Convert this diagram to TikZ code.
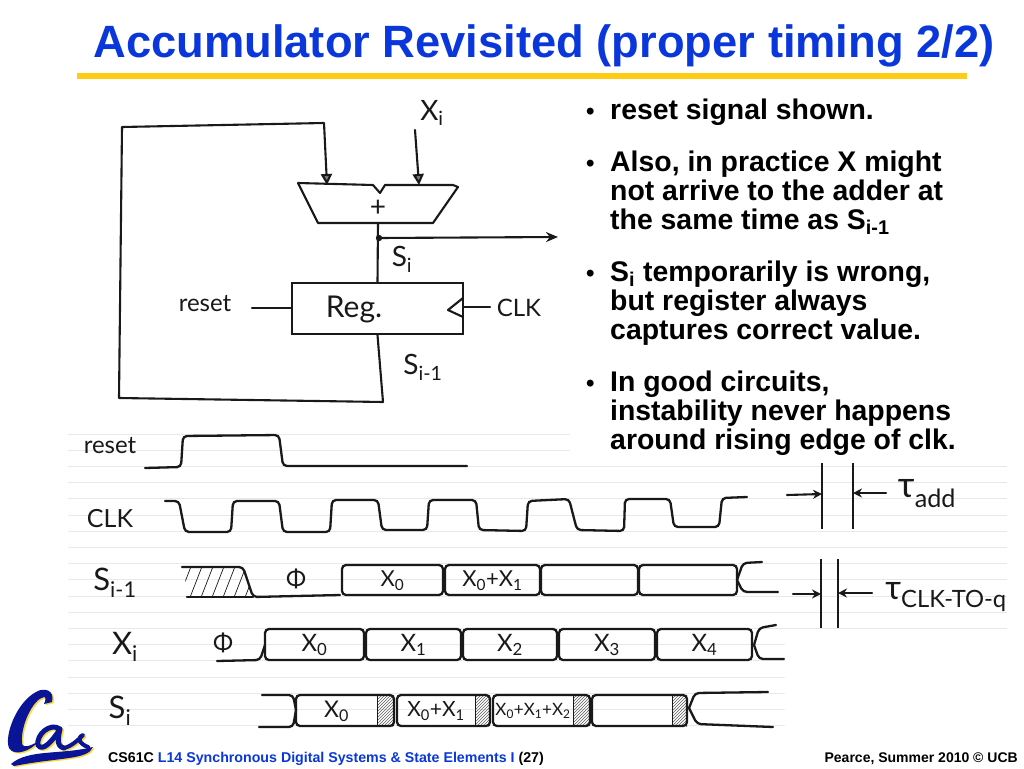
\documentclass[tikz,border=0pt]{standalone}
\usepackage{fontspec}
\setmainfont{Liberation Sans}
\newfontfamily\handfont{Lato}
\usepackage{tikz}
\usetikzlibrary{arrows.meta,patterns}
\definecolor{titleblue}{RGB}{10,55,220}
\definecolor{rulegold}{RGB}{255,204,20}
\definecolor{calblue}{RGB}{10,20,150}
\definecolor{calgold}{RGB}{250,215,60}
\definecolor{ink}{RGB}{25,25,25}
\definecolor{notebook}{RGB}{232,232,232}
\tikzset{
    wire/.style={draw=ink, line width=2.1pt, line join=round, line cap=round},
    wave/.style={draw=ink, line width=2.3pt, rounded corners=4pt, line cap=round},
    thinmark/.style={draw=ink, line width=1.1pt},
    hand/.style={inner sep=0pt, text=ink, font=\handfont\fontsize{#1}{#1}\selectfont},
    hand/.default=24,
    slide/.style={anchor=base west, inner sep=0pt, font=\bfseries\fontsize{28.4}{30}\selectfont},
    foot/.style={inner sep=0pt, font=\bfseries\fontsize{#1}{16}\selectfont},
    calink/.style={line cap=round, line join=round},
}
\newcommand{\calshape}[2]{%
    \fill[#1] (52,702) .. controls (55,690) and (44,687) .. (36,692)
        .. controls (17,702) and (4,735) .. (9,748)
        .. controls (14,757) and (31,751) .. (39,741)
        .. controls (29,747) and (21,749) .. (22,741)
        .. controls (21,725) and (33,699) .. (44,697)
        .. controls (46,697) and (46,700) .. (44,704) to cycle;
    \draw[#1, line width=5pt, calink] (60,729) .. controls (50,722) and (36,735) .. (38,745)
        .. controls (42,752) and (52,742) .. (60,729) .. controls (58,738) and (56,746) .. (64,748);
    \draw[#1, line width=4pt, calink] (64,748) .. controls (72,746) and (78,740) .. (83,735)
        .. controls (76,738) and (80,744) .. (88,747);
    \fill[#1] (11,764) .. controls (28,749) and (60,755) .. (93,747)
        .. controls (88,760) and (60,757) .. (14,766) to cycle;
}
\begin{document}
\begin{tikzpicture}[x=1pt,y=-1pt]
    \useasboundingbox (0,0) rectangle (1024,768);
    %% Background
    \fill[white] (0,0) rectangle (1024,768);
    %% Notebook paper
    \foreach \k in {0,...,18}
    {
        \pgfmathsetmacro{\ypos}{434+16.2*\k}
        \ifnum\k<2
            \draw[notebook, line width=0.8pt] (68,\ypos) to (570,\ypos);
        \else\ifnum\k<13
            \draw[notebook, line width=0.8pt] (68,\ypos) to (1007,\ypos);
        \else
            \draw[notebook, line width=0.8pt] (68,\ypos) to (785,\ypos);
        \fi\fi
    }
    %% Title
    \node[anchor=base, inner sep=0pt, text=titleblue, font=\bfseries\fontsize{45.3}{48}\selectfont]
        (title) at (544,58) {Accumulator Revisited (proper timing 2/2)};
    \draw[rulegold, line width=6pt] (77,75.5) to (967,75.5);
    %% Bullets
    \foreach \ypos/\txt [count=\n] in {
        119/{reset signal shown.},
        171/{Also, in practice X might},
        200/{not arrive to the adder at},
        229/{the same time as S\textsubscript{i-1}},
        281/{S\textsubscript{i} temporarily is wrong,},
        310/{but register always},
        339/{captures correct value.},
        391/{In good circuits,},
        420/{instability never happens},
        449/{around rising edge of clk.}}
    {
        \node[slide] (line\n) at (610,\ypos) {\txt};
    }
    \foreach \ypos [count=\n] in {119,171,281,391}
    {
        \node[slide, font=\bfseries\fontsize{24}{24}\selectfont] (dot\n) at (586,\ypos) {\textbullet};
    }
    %% Adder and register
    \coordinate (addinA) at (327,185);
    \coordinate (addinB) at (419,185);
    \coordinate (addout) at (378,223);
    \draw[wire, fill=white] (298,183) to (373,185) to (380,193) to (385,185)
        to (453,185) to (458,187) to (433,223) to (318,223) to (298,183);
    \node[hand=28] (plus) at (378,208) {+};
    \node[draw=ink, line width=2.1pt, minimum width=171, minimum height=51, inner sep=0pt,
        hand=30] (reg) at (377.5,308.5) {};
    \node[hand=30] (regname) at (354,309) {Reg.};
    \draw[wire] (463,298) to (448,310) to (463,317);
    %% Wires of the circuit
    \coordinate (fbA) at (383,402);
    \coordinate (fbB) at (119,398);
    \coordinate (fbC) at (122,127);
    \coordinate (fbD) at (324,123);
    \coordinate (tap) at (379,238);
    \coordinate (sumout) at (558,237);
    \coordinate (xistart) at (415,130);
    \coordinate (resetend) at (252,308);
    \coordinate (clkend) at (490,307);
    \draw[wire, -{Triangle[length=11pt,width=11pt,fill=gray]}] (reg.south) to (fbA) to (fbB) to (fbC) to (fbD)
        to (addinA);
    \draw[wire, -{Triangle[length=11pt,width=11pt,fill=gray]}] (xistart) to (addinB);
    \draw[wire] (addout) to (reg.north);
    \draw[wire, -{Stealth[length=12pt,width=10pt]}] (tap) to (sumout);
    \fill[ink] (tap) circle (3.2);
    \node[hand=28] (xilabel) at (432,113) {X\textsubscript{i}};
    \node[hand=28] (silabel) at (402,259) {S\textsubscript{i}};
    \node[hand=28] (siprev) at (423,367) {S\textsubscript{i-1}};
    \node[hand=24] (resetlabel) at (205,304) {reset};
    \node[hand=24] (clklabel) at (519,308) {CLK};
    \draw[wire] (resetend) to (reg.west |- resetend);
    \draw[wire] (reg.east |- clkend) to (clkend);
    %% Waveform labels
    \node[hand=24] (resetname) at (110,446) {reset};
    \node[hand=25] (clkname) at (110,519) {CLK};
    \node[hand=31] (siprevname) at (115,583) {S\textsubscript{i-1}};
    \node[hand=31] (xiname) at (125,647) {X\textsubscript{i}};
    \node[hand=31] (siname) at (120,711) {S\textsubscript{i}};
    %% reset and CLK
    \draw[wave] (145,468) to (181,467) to (183,436) to (279,435) to (283,466) to (467,466);
    \draw[wave] (165,501) to (179,501) to (185,532) to (231,532) to (233,501) to (279,501)
        to (283,532) to (330,532) to (332,500) to (378,500) to (382,530) to (427,530)
        to (429,500) to (476,500) to (479,530) to (526,531) to (528,501) to (569,499)
        to (577,530) to (624,531) to (625,499) to (670,499) to (674,527) to (719,527)
        to (722,498) to (747,497);
    %% S(i-1)
    \begin{scope}
        \clip (184,567) to (243,567) to (253,597) to (187,597) to cycle;
        \foreach \k in {0,...,6}
        {
            \draw[ink, line width=0.7pt] ({178+11*\k},600) to ({192+11*\k},564);
        }
    \end{scope}
    \draw[wave] (182,567) to (243,567) to (253,597) to (340,595);
    \draw[wave] (187,597) to (253,597);
    \foreach \xa/\xb/\txt [count=\n] in {
        342/443/{X\textsubscript{0}},
        445/540/{X\textsubscript{0}+X\textsubscript{1}},
        541/638/{},
        639/737/{}}
    {
        \draw[wave] (\xa,580) to (\xa,565) to (\xb,565) to (\xb,595) to (\xa,595) to (\xa,580);
        \node[hand=22] (sprev\n) at ({(\xa+\xb)/2},581) {\txt};
    }
    \draw[wave] (737,580) to (743,563) to (762,562);
    \draw[wave] (737,580) to (743,592) to (778,592);
    \node[hand=24] (phiA) at (296,579) {Φ};
    %% X(i)
    \draw[wave] (217,661) to (260,660) to (265,645);
    \node[hand=24] (phiB) at (223,643) {Φ};
    \foreach \xa/\xb/\txt [count=\n] in {
        265/364/{X\textsubscript{0}},
        366/461/{X\textsubscript{1}},
        463/557/{X\textsubscript{2}},
        559/655/{X\textsubscript{3}},
        657/752/{X\textsubscript{4}}}
    {
        \draw[wave] (\xa,645) to (\xa,629) to (\xb,629) to (\xb,660) to (\xa,660) to (\xa,645);
        \node[hand=24] (xval\n) at ({(\xa+\xb)/2},645) {\txt};
    }
    \draw[wave] (754,645) to (759,628) to (776,625);
    \draw[wave] (754,645) to (759,659) to (784,659);
    %% S(i)
    \draw[wave] (262,695) to (293,695) to (296,710);
    \draw[wave] (259,727) to (293,727) to (296,710);
    \foreach \xa/\xh/\xb/\size/\txt [count=\n] in {
        296/377/394/23/{X\textsubscript{0}},
        397/475/490/21/{X\textsubscript{0}+X\textsubscript{1}},
        493/573/590/17/{X\textsubscript{0}+X\textsubscript{1}+X\textsubscript{2}},
        592/672/687/20/{}}
    {
        \fill[pattern=north east lines, pattern color=ink!70] (\xh,695) rectangle (\xb,726);
        \draw[wave] (\xa,710) to (\xa,695) to (\xb,695) to (\xb,726) to (\xa,726) to (\xa,710);
        \draw[ink, line width=1pt] (\xh,695) to (\xh,726);
        \node[hand=\size] (sval\n) at ({(\xa+\xh)/2},711) {\txt};
    }
    \draw[wave] (689,708) to (695,693) to (768,692);
    \draw[wave] (689,708) to (697,724) to (773,727);
    %% Delays
    \foreach \xpos in {822,853}
    {
        \draw[thinmark] (\xpos,463) to (\xpos,529);
    }
    \foreach \xpos in {821,838}
    {
        \draw[thinmark] (\xpos,559) to (\xpos,628);
    }
    \coordinate (addleft) at (787,495);
    \coordinate (addleftend) at (822,494);
    \coordinate (addright) at (886,493);
    \coordinate (addrightend) at (853,493);
    \coordinate (cqleft) at (793,594);
    \coordinate (cqleftend) at (821,594);
    \coordinate (cqright) at (872,593);
    \coordinate (cqrightend) at (838,593);
    \foreach \from/\to in {addleft/addleftend,addright/addrightend,cqleft/cqleftend,cqright/cqrightend}
    {
        \draw[wire, -{Stealth[length=9pt,width=9pt]}] (\from) to (\to);
    }
    \node[hand=36] (tauadd) at (927,494) {τ\textsubscript{add}};
    \node[hand=34] (tauclk) at (946,597) {τ\textsubscript{CLK-TO-q}};
    %% Logo
    \begin{scope}[shift={(1.5,1.2)}]
        \calshape{calgold}{}
    \end{scope}
    \calshape{calblue}{}
    %% Footer
    \node[foot=14.2, anchor=base west] (footleft) at (108,762)
        {CS61C \textcolor{titleblue}{L14 Synchronous Digital Systems \& State Elements I} (27)};
    \node[foot=14, anchor=base east] (footright) at (1018,762) {Pearce, Summer 2010 © UCB};
\end{tikzpicture}
\end{document}
